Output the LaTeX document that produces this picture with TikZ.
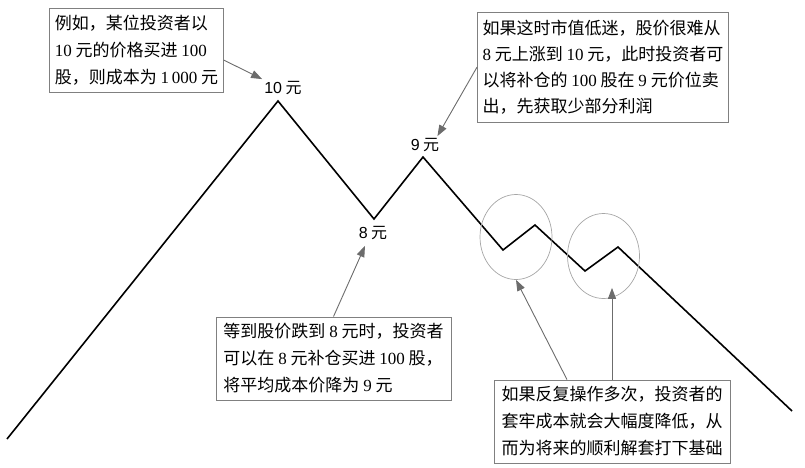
\documentclass[tikz,border=0pt]{standalone}
\usepackage{fontspec}
\setmainfont{Liberation Serif}
\newfontfamily\cjk{Noto Sans CJK SC}
\newfontfamily\lab{Liberation Sans}
\usepackage{tikz}
\usetikzlibrary{arrows.meta,positioning,shapes.geometric,calc}
\newcommand{\nm}[1]{{\rmfamily #1}}
\newcommand{\sn}[1]{{\lab #1}}

\begin{document}
\begin{tikzpicture}[x=1pt, y=-1pt,
    note/.style={draw=gray, line width=0.9pt, fill=white, align=left, inner sep=5pt,
                 font=\cjk\fontsize{17}{27}\selectfont},
    price/.style={font=\cjk\fontsize{16}{18}\selectfont, inner sep=2pt},
    ring/.style={ellipse, draw=gray!70, line width=0.7pt, minimum width=72pt, minimum height=85pt},
    callout/.style={draw=gray!85!black, line width=0.9pt, -{Triangle[length=11pt,width=8pt]}}]
  \useasboundingbox (0,0) rectangle (805,467);
  % ---- price path
  \coordinate (start) at (7,439);
  \coordinate (p10) at (278,101);
  \coordinate (p8) at (374,219);
  \coordinate (p9) at (423,157);
  \coordinate (d1) at (503,250);
  \coordinate (u1) at (535,225);
  \coordinate (d2) at (585,271);
  \coordinate (u2) at (618,247);
  \coordinate (stop) at (792,411);
  \draw[line width=1.6pt] (start) -- (p10) -- (p8) -- (p9) -- (d1) -- (u1) -- (d2) -- (u2) -- (stop);
  \node[price] (l10) at (283,88) {\sn{10} 元};
  \node[price] (l9) at (425,145) {\sn{9} 元};
  \node[price] (l8) at (373,233) {\sn{8} 元};
  % ---- repeated swings
  \node[ring] (ringA) at (516,237) {};
  \node[ring] (ringB) at (603.5,256) {};
  % ---- notes
  \node[note, minimum width=173pt, minimum height=84pt] (boxA) at (136.5,50)
    {例如，某位投资者以\\\nm{10} 元的价格买进 \nm{100}\\股，则成本为 \nm{1\,000} 元};
  \node[note, minimum width=250pt, minimum height=110pt, font=\cjk\fontsize{17}{26}\selectfont] (boxB) at (603,67)
    {如果这时市值低迷，股价很难从\\\nm{8} 元上涨到 \nm{10} 元，此时投资者可\\以将补仓的 \nm{100} 股在 \nm{9} 元价位卖\\出，先获取少部分利润};
  \node[note, minimum width=235pt, minimum height=83pt] (boxC) at (333.5,358.5)
    {等到股价跌到 \nm{8} 元时，投资者\\可以在 \nm{8} 元补仓买进 \nm{100} 股，\\将平均成本价降为 \nm{9} 元};
  \node[note, minimum width=236pt, minimum height=83pt] (boxD) at (612,421.5)
    {如果反复操作多次，投资者的\\套牢成本就会大幅度降低，从\\而为将来的顺利解套打下基础};
  % ---- callouts
  \draw[callout] ([yshift=-10pt]boxA.east) -- (l10.north west);
  \draw[callout] (boxB.west) -- ([xshift=-4pt]l9.north east);
  \draw[callout] (boxC.north) -- ([xshift=-8pt,yshift=-4pt]l8.south);
  \draw[callout] ([xshift=-45pt]boxD.north) -- (ringA.south);
  \draw[callout] (boxD.north) -- ($(boxD.north |- ringB.south)+(0,-11)$);
\end{tikzpicture}
\end{document}
